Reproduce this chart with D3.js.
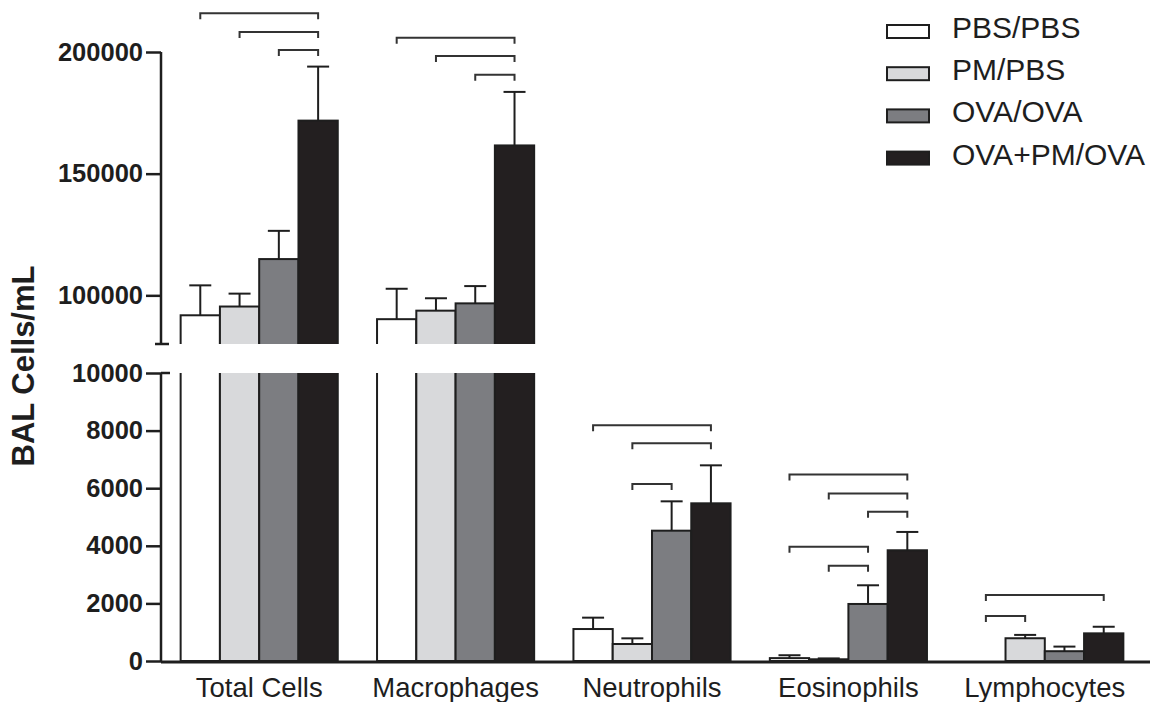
<!DOCTYPE html>
<html><head><meta charset="utf-8">
<script src="https://cdn.jsdelivr.net/npm/d3@7"></script>
<style>
html,body{margin:0;padding:0;background:#fff;}
svg{display:block;font-family:Arial,"Liberation Sans",Helvetica,sans-serif;}
</style></head>
<body>
<svg id="chart" width="1159" height="702"></svg>
<script>
// ---- data ----
const categories = ["Total Cells", "Macrophages", "Neutrophils", "Eosinophils", "Lymphocytes"];
const groups = ["PBS/PBS", "PM/PBS", "OVA/OVA", "OVA+PM/OVA"];
const pbsPbsMean   = [91800, 90200, 1110, 100, 0];
const pmPbsMean    = [95400, 93700, 590, 60, 790];
const ovaOvaMean   = [114900, 96700, 4525, 1980, 340];
const ovaPmOvaMean = [171800, 161600, 5475, 3845, 960];
const pbsPbsErr    = [12300, 12500, 395, 100, 0];
const pmPbsErr     = [5300, 5100, 197, 30, 116];
const ovaOvaErr    = [11600, 7100, 1019, 649, 160];
const ovaPmOvaErr  = [22200, 22000, 1319, 636, 229];
const upperTicks = [100000, 150000, 200000];
const lowerTicks = [0, 2000, 4000, 6000, 8000, 10000];
const fills = ["#ffffff", "#d8d9db", "#7c7d81", "#231f20"];
// significance brackets: category, from group, to group, height (axis units)
const brackets = [
  {cat: "Total Cells", from: 0, to: 3, y: 215900},
  {cat: "Total Cells", from: 1, to: 3, y: 208200},
  {cat: "Total Cells", from: 2, to: 3, y: 200800},
  {cat: "Macrophages", from: 0, to: 3, y: 205900},
  {cat: "Macrophages", from: 1, to: 3, y: 198400},
  {cat: "Macrophages", from: 2, to: 3, y: 190700},
  {cat: "Neutrophils", from: 0, to: 3, y: 8190},
  {cat: "Neutrophils", from: 1, to: 3, y: 7560},
  {cat: "Neutrophils", from: 1, to: 2, y: 6150},
  {cat: "Eosinophils", from: 0, to: 3, y: 6480},
  {cat: "Eosinophils", from: 1, to: 3, y: 5820},
  {cat: "Eosinophils", from: 2, to: 3, y: 5180},
  {cat: "Eosinophils", from: 0, to: 2, y: 3970},
  {cat: "Eosinophils", from: 1, to: 2, y: 3310},
  {cat: "Lymphocytes", from: 0, to: 3, y: 2290},
  {cat: "Lymphocytes", from: 0, to: 1, y: 1560}
];
const means = [pbsPbsMean, pmPbsMean, ovaOvaMean, ovaPmOvaMean];
const errs = [pbsPbsErr, pmPbsErr, ovaOvaErr, ovaPmOvaErr];
const upperCats = ["Total Cells", "Macrophages"];

// ---- layout ----
const svg = d3.select("#chart");
const axisX = 161;
const stroke = "#1e1e1e";
const yUp = d3.scaleLinear().domain([80000, 200000]).range([344, 52]);
const yLo = d3.scaleLinear().domain([0, 10000]).range([661, 373]);
const x0 = d3.scaleBand().domain(categories).range([161, 1143]).paddingInner(0.2).paddingOuter(0.1);
const x1 = d3.scaleBand().domain(d3.range(groups.length)).range([0, x0.bandwidth()]);

const defs = svg.append("defs");
defs.append("clipPath").attr("id", "clipUp").append("rect")
  .attr("x", 0).attr("y", 0).attr("width", 1159).attr("height", yUp(80000));
defs.append("clipPath").attr("id", "clipLo").append("rect")
  .attr("x", 0).attr("y", yLo(10000)).attr("width", 1159).attr("height", yLo(0) - yLo(10000) + 2);

const rows = [];
categories.forEach((c, ci) => groups.forEach((g, gi) => rows.push({c, ci, gi, v: means[gi][ci], e: errs[gi][ci]})));

// upper panel bars
const gUp = svg.append("g").attr("clip-path", "url(#clipUp)");
gUp.selectAll("rect").data(rows.filter(d => upperCats.includes(d.c))).join("rect")
  .attr("x", d => x0(d.c) + x1(d.gi))
  .attr("width", x1.bandwidth())
  .attr("y", d => yUp(d.v))
  .attr("height", d => yUp(70000) - yUp(d.v))
  .attr("fill", d => fills[d.gi]).attr("stroke", stroke).attr("stroke-width", 2);

// lower panel bars
const gLo = svg.append("g").attr("clip-path", "url(#clipLo)");
gLo.selectAll("rect").data(rows.filter(d => d.v > 0)).join("rect")
  .attr("x", d => x0(d.c) + x1(d.gi))
  .attr("width", x1.bandwidth())
  .attr("y", d => yLo(Math.min(d.v, 12000)))
  .attr("height", d => yLo(0) - yLo(Math.min(d.v, 12000)))
  .attr("fill", d => fills[d.gi]).attr("stroke", stroke).attr("stroke-width", 2);

// error bars
const errRows = rows.filter(d => d.e > 0);
const yOf = d => upperCats.includes(d.c) ? yUp : yLo;
const gErr = svg.append("g").attr("stroke", stroke).attr("stroke-width", 2).attr("fill", "none");
errRows.forEach(d => {
  const cx = x0(d.c) + x1(d.gi) + x1.bandwidth() / 2;
  const ys = yOf(d);
  gErr.append("line").attr("x1", cx).attr("x2", cx).attr("y1", ys(d.v)).attr("y2", ys(d.v + d.e));
  gErr.append("line").attr("x1", cx - 11).attr("x2", cx + 11).attr("y1", ys(d.v + d.e)).attr("y2", ys(d.v + d.e));
});

// brackets
const gBr = svg.append("g").attr("stroke", "#333").attr("stroke-width", 2).attr("fill", "none");
brackets.forEach(b => {
  const ys = upperCats.includes(b.cat) ? yUp : yLo;
  const xa = x0(b.cat) + x1(b.from) + x1.bandwidth() / 2;
  const xb = x0(b.cat) + x1(b.to) + x1.bandwidth() / 2;
  const yy = ys(b.y);
  gBr.append("path").attr("d", `M${xa},${yy + 6}V${yy}H${xb}V${yy + 6}`);
});

// axes
const tickFont = g => g.selectAll("text").attr("font-size", 25.5).attr("font-weight", "bold")
  .attr("fill", "#1e1e1e").attr("font-family", 'Arial,"Liberation Sans",sans-serif');
const upAxis = svg.append("g").attr("transform", `translate(${axisX},0)`)
  .call(d3.axisLeft(yUp).tickValues(upperTicks).tickFormat(d3.format("d")).tickSize(15).tickPadding(3));
upAxis.select(".domain").remove();
upAxis.selectAll("line").attr("stroke", stroke).attr("stroke-width", 2.5);
upAxis.call(tickFont);
upAxis.append("line").attr("x1", 0).attr("x2", 0).attr("y1", yUp(200000)).attr("y2", yUp(80000))
  .attr("stroke", stroke).attr("stroke-width", 2.5);
upAxis.append("line").attr("x1", -6).attr("x2", 8).attr("y1", yUp(80000)).attr("y2", yUp(80000))
  .attr("stroke", stroke).attr("stroke-width", 2.5);

const loAxis = svg.append("g").attr("transform", `translate(${axisX},0)`)
  .call(d3.axisLeft(yLo).tickValues(lowerTicks).tickFormat(d3.format("d")).tickSize(15).tickPadding(3));
loAxis.select(".domain").remove();
loAxis.selectAll("line").attr("stroke", stroke).attr("stroke-width", 2.5);
loAxis.call(tickFont);
loAxis.append("line").attr("x1", 0).attr("x2", 0).attr("y1", yLo(10000)).attr("y2", yLo(0))
  .attr("stroke", stroke).attr("stroke-width", 2.5);
loAxis.append("line").attr("x1", 0).attr("x2", 9).attr("y1", yLo(10000)).attr("y2", yLo(10000))
  .attr("stroke", stroke).attr("stroke-width", 2.5);

// x axis
const xAxis = svg.append("g").attr("transform", `translate(0,${yLo(0)})`)
  .call(d3.axisBottom(x0).tickSize(0).tickPadding(16));
xAxis.select(".domain").remove();
xAxis.append("line").attr("x1", axisX).attr("x2", 1150).attr("y1", 1).attr("y2", 1)
  .attr("stroke", stroke).attr("stroke-width", 3);
xAxis.selectAll("text").attr("font-size", 27.5).attr("fill", "#1e1e1e")
  .attr("font-family", 'Arial,"Liberation Sans",sans-serif');

// y title
svg.append("text").attr("transform", "translate(34,366) rotate(-90)")
  .attr("text-anchor", "middle").attr("font-size", 31).attr("font-weight", "bold").attr("fill", "#1e1e1e")
  .text("BAL Cells/mL");

// legend
const leg = svg.append("g");
groups.forEach((g, i) => {
  const base = 38 + i * 42.2;
  leg.append("rect").attr("x", 887).attr("y", base - 13).attr("width", 42).attr("height", 13)
    .attr("fill", fills[i]).attr("stroke", stroke).attr("stroke-width", 2);
  leg.append("text").attr("x", 952).attr("y", base).attr("font-size", 30).attr("fill", "#1e1e1e").text(g);
});
</script>
</body></html>
